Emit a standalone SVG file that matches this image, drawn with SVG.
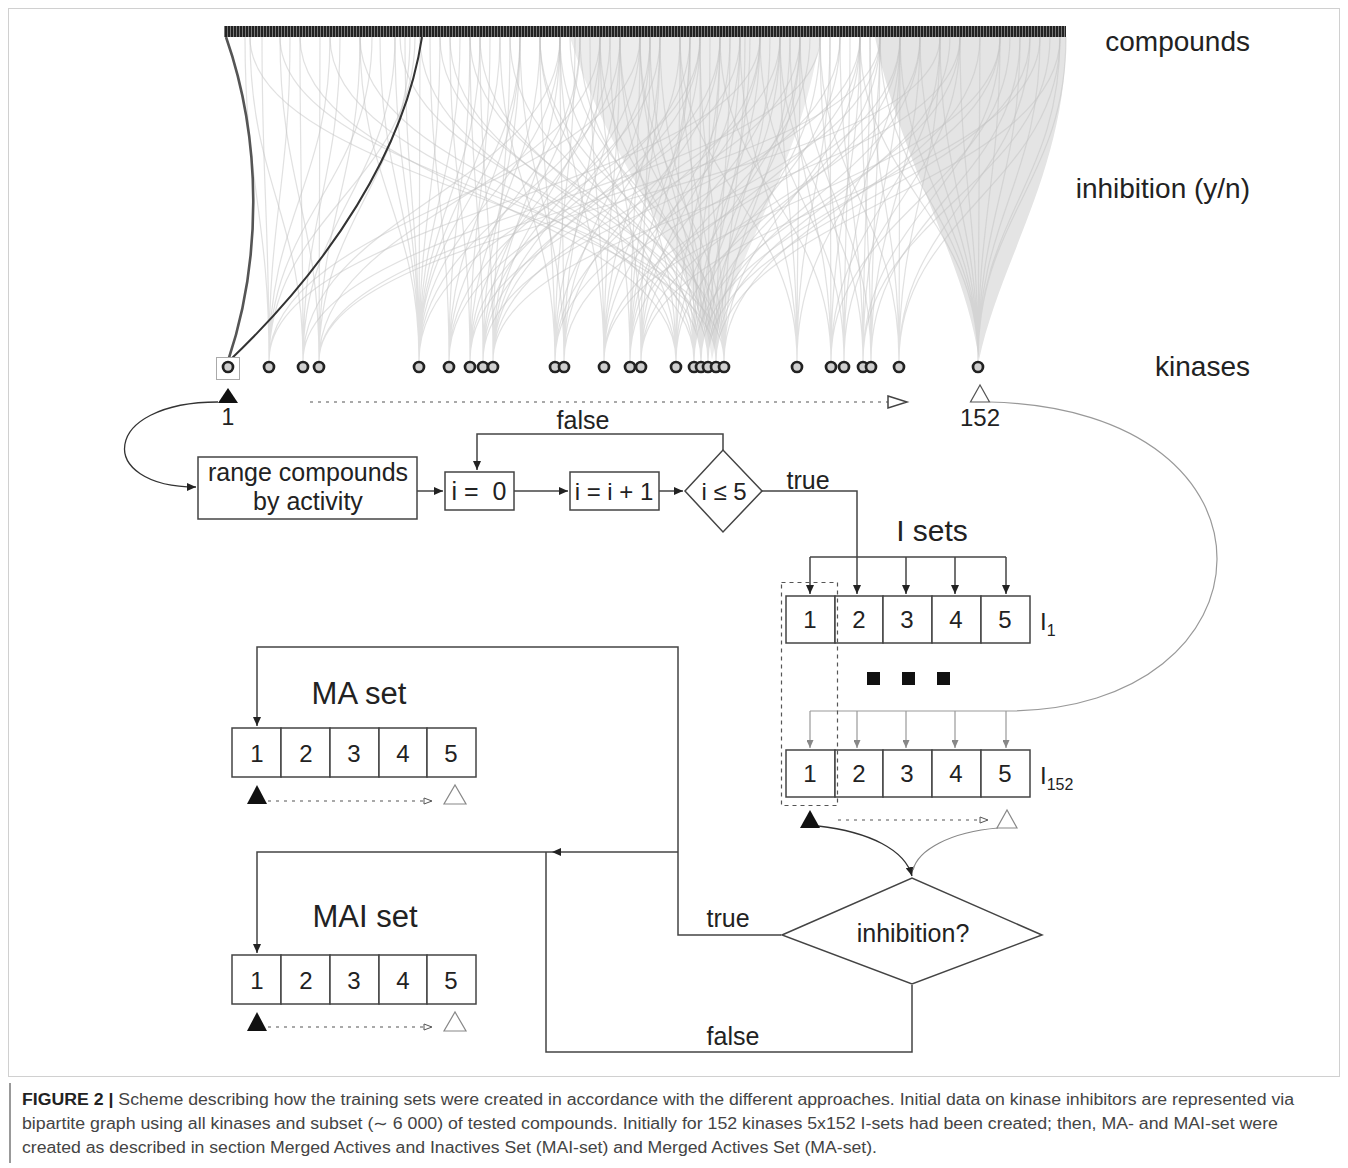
<svg xmlns="http://www.w3.org/2000/svg" width="1348" height="1168" viewBox="0 0 1348 1168">
<style>
.t{font-family:"Liberation Sans",Arial,sans-serif;fill:#222}
.ln{fill:none;stroke:#444;stroke-width:1.5}
.box{fill:#fff;stroke:#444;stroke-width:1.5}
.gl{fill:none;stroke:#999;stroke-width:1.2}
.dot{fill:none;stroke:#555;stroke-width:1.2;stroke-dasharray:3 5}
.edge{fill:none;stroke:#c4c4c4;stroke-opacity:.5;stroke-width:1.2}
.kn{fill:#d0d0d0;stroke:#222;stroke-width:2.7}
.cap{font-family:"Liberation Sans",Arial,sans-serif;fill:#444;font-size:16px}
</style>
<defs>
<pattern id="hatch" width="3" height="11" patternUnits="userSpaceOnUse"><rect width="3" height="11" fill="#222"/><rect x="2" width="1" height="11" fill="#777"/></pattern>
<marker id="ab" markerWidth="9" markerHeight="8" refX="9" refY="4" orient="auto" markerUnits="userSpaceOnUse"><path d="M0,0L9,4L0,8z" fill="#222"/></marker>
<marker id="ag" markerWidth="8" markerHeight="7" refX="8" refY="3.5" orient="auto" markerUnits="userSpaceOnUse"><path d="M0,0L8,3.5L0,7z" fill="#888"/></marker>
<marker id="ah" markerWidth="10" markerHeight="8" refX="9" refY="4" orient="auto" markerUnits="userSpaceOnUse"><path d="M1,1L9,4L1,7z" fill="#fff" stroke="#555" stroke-width="1"/></marker>
</defs>
<rect x="0" y="0" width="1348" height="1168" fill="#fff"/>
<rect x="8.5" y="8.5" width="1331" height="1068" fill="none" stroke="#d0d0d0" stroke-width="1"/>

<g id="bipartite-edges">
<path d="M875,37 L1066,37 C1066,170 1000,260 979,360 C965,260 900,160 875,37 Z" fill="#e4e4e4"/>
<path d="M570,37 L820,37 C800,170 730,260 712,360 C700,260 610,170 570,37 Z" fill="#ececec"/>
<path class="edge" d="M245 37C245 183 269 215 269 361M262 37C262 183 269 215 269 361M290 37C290 183 269 215 269 361M330 37C330 183 269 215 269 361M372 37C372 183 269 215 269 361M415 37C415 183 269 215 269 361M640 37C640 183 269 215 269 361M760 37C760 183 269 215 269 361"/>
<path class="edge" d="M250 37C250 183 303 215 303 361M300 37C300 183 303 215 303 361M340 37C340 183 303 215 303 361M395 37C395 183 303 215 303 361M560 37C560 183 303 215 303 361M820 37C820 183 303 215 303 361"/>
<path class="edge" d="M280 37C280 183 319 215 319 361M320 37C320 183 319 215 319 361M360 37C360 183 319 215 319 361M410 37C410 183 319 215 319 361M600 37C600 183 319 215 319 361M880 37C880 183 319 215 319 361M940 37C940 183 319 215 319 361"/>
<path class="edge" d="M360 37C360 183 419 215 419 361M380 37C380 183 419 215 419 361M395 37C395 183 419 215 419 361M405 37C405 183 419 215 419 361M420 37C420 183 419 215 419 361M440 37C440 183 419 215 419 361M460 37C460 183 419 215 419 361M480 37C480 183 419 215 419 361M500 37C500 183 419 215 419 361M520 37C520 183 419 215 419 361M560 37C560 183 419 215 419 361M620 37C620 183 419 215 419 361M700 37C700 183 419 215 419 361"/>
<path class="edge" d="M430 37C430 183 449 215 449 361M470 37C470 183 449 215 449 361M520 37C520 183 449 215 449 361M580 37C580 183 449 215 449 361M660 37C660 183 449 215 449 361M740 37C740 183 449 215 449 361"/>
<path class="edge" d="M450 37C450 183 470 215 470 361M490 37C490 183 470 215 470 361M540 37C540 183 470 215 470 361M610 37C610 183 470 215 470 361M690 37C690 183 470 215 470 361M780 37C780 183 470 215 470 361"/>
<path class="edge" d="M470 37C470 183 483 215 483 361M520 37C520 183 483 215 483 361M580 37C580 183 483 215 483 361M640 37C640 183 483 215 483 361M720 37C720 183 483 215 483 361M860 37C860 183 483 215 483 361"/>
<path class="edge" d="M480 37C480 183 493 215 493 361M510 37C510 183 493 215 493 361M560 37C560 183 493 215 493 361M600 37C600 183 493 215 493 361M650 37C650 183 493 215 493 361M700 37C700 183 493 215 493 361M800 37C800 183 493 215 493 361M960 37C960 183 493 215 493 361"/>
<path class="edge" d="M500 37C500 183 555 215 555 361M540 37C540 183 555 215 555 361M575 37C575 183 555 215 555 361M620 37C620 183 555 215 555 361M680 37C680 183 555 215 555 361M760 37C760 183 555 215 555 361M840 37C840 183 555 215 555 361"/>
<path class="edge" d="M520 37C520 183 564 215 564 361M560 37C560 183 564 215 564 361M600 37C600 183 564 215 564 361M650 37C650 183 564 215 564 361M720 37C720 183 564 215 564 361M880 37C880 183 564 215 564 361"/>
<path class="edge" d="M560 37C560 183 604 215 604 361M590 37C590 183 604 215 604 361M620 37C620 183 604 215 604 361M660 37C660 183 604 215 604 361M700 37C700 183 604 215 604 361M760 37C760 183 604 215 604 361M900 37C900 183 604 215 604 361M1000 37C1000 183 604 215 604 361"/>
<path class="edge" d="M600 37C600 183 630 215 630 361M640 37C640 183 630 215 630 361M660 37C660 183 630 215 630 361M690 37C690 183 630 215 630 361M730 37C730 183 630 215 630 361M780 37C780 183 630 215 630 361M860 37C860 183 630 215 630 361"/>
<path class="edge" d="M610 37C610 183 641 215 641 361M650 37C650 183 641 215 641 361M690 37C690 183 641 215 641 361M740 37C740 183 641 215 641 361M810 37C810 183 641 215 641 361M920 37C920 183 641 215 641 361M1040 37C1040 183 641 215 641 361"/>
<path class="edge" d="M300 37C300 183 676 215 676 361M420 37C420 183 676 215 676 361M540 37C540 183 676 215 676 361M620 37C620 183 676 215 676 361M680 37C680 183 676 215 676 361M720 37C720 183 676 215 676 361M800 37C800 183 676 215 676 361M900 37C900 183 676 215 676 361"/>
<path class="edge" d="M330 37C330 183 694 215 694 361M450 37C450 183 694 215 694 361M560 37C560 183 694 215 694 361M640 37C640 183 694 215 694 361M690 37C690 183 694 215 694 361M720 37C720 183 694 215 694 361M760 37C760 183 694 215 694 361M840 37C840 183 694 215 694 361M960 37C960 183 694 215 694 361"/>
<path class="edge" d="M360 37C360 183 701 215 701 361M480 37C480 183 701 215 701 361M580 37C580 183 701 215 701 361M650 37C650 183 701 215 701 361M700 37C700 183 701 215 701 361M740 37C740 183 701 215 701 361M780 37C780 183 701 215 701 361M880 37C880 183 701 215 701 361M1000 37C1000 183 701 215 701 361"/>
<path class="edge" d="M400 37C400 183 708 215 708 361M510 37C510 183 708 215 708 361M600 37C600 183 708 215 708 361M660 37C660 183 708 215 708 361M710 37C710 183 708 215 708 361M750 37C750 183 708 215 708 361M800 37C800 183 708 215 708 361M920 37C920 183 708 215 708 361M1030 37C1030 183 708 215 708 361"/>
<path class="edge" d="M250 37C250 183 716 215 716 361M440 37C440 183 716 215 716 361M540 37C540 183 716 215 716 361M620 37C620 183 716 215 716 361M680 37C680 183 716 215 716 361M730 37C730 183 716 215 716 361M770 37C770 183 716 215 716 361M820 37C820 183 716 215 716 361M950 37C950 183 716 215 716 361M1060 37C1060 183 716 215 716 361"/>
<path class="edge" d="M280 37C280 183 724 215 724 361M470 37C470 183 724 215 724 361M570 37C570 183 724 215 724 361M640 37C640 183 724 215 724 361M700 37C700 183 724 215 724 361M745 37C745 183 724 215 724 361M790 37C790 183 724 215 724 361M860 37C860 183 724 215 724 361M980 37C980 183 724 215 724 361"/>
<path class="edge" d="M680 37C680 183 797 215 797 361M740 37C740 183 797 215 797 361M780 37C780 183 797 215 797 361M800 37C800 183 797 215 797 361M830 37C830 183 797 215 797 361M900 37C900 183 797 215 797 361"/>
<path class="edge" d="M720 37C720 183 831 215 831 361M790 37C790 183 831 215 831 361M830 37C830 183 831 215 831 361M860 37C860 183 831 215 831 361M940 37C940 183 831 215 831 361M1010 37C1010 183 831 215 831 361"/>
<path class="edge" d="M760 37C760 183 844 215 844 361M820 37C820 183 844 215 844 361M850 37C850 183 844 215 844 361M880 37C880 183 844 215 844 361M960 37C960 183 844 215 844 361"/>
<path class="edge" d="M780 37C780 183 863 215 863 361M840 37C840 183 863 215 863 361M870 37C870 183 863 215 863 361M900 37C900 183 863 215 863 361M1000 37C1000 183 863 215 863 361M1050 37C1050 183 863 215 863 361"/>
<path class="edge" d="M800 37C800 183 871 215 871 361M860 37C860 183 871 215 871 361M880 37C880 183 871 215 871 361M920 37C920 183 871 215 871 361M1020 37C1020 183 871 215 871 361"/>
<path class="edge" d="M820 37C820 183 899 215 899 361M870 37C870 183 899 215 899 361M900 37C900 183 899 215 899 361M940 37C940 183 899 215 899 361M1030 37C1030 183 899 215 899 361M1060 37C1060 183 899 215 899 361"/>
<path class="edge" d="M860 37C860 183 978 215 978 361M880 37C880 183 978 215 978 361M900 37C900 183 978 215 978 361M920 37C920 183 978 215 978 361M940 37C940 183 978 215 978 361M960 37C960 183 978 215 978 361M980 37C980 183 978 215 978 361M1000 37C1000 183 978 215 978 361M1020 37C1020 183 978 215 978 361M1040 37C1040 183 978 215 978 361M1060 37C1060 183 978 215 978 361M1066 37C1066 183 978 215 978 361"/>
<path d="M226,37 C262,140 262,260 228,361" fill="none" stroke="#555" stroke-width="2.6"/>
<path d="M422,37 C405,150 330,265 229,361" fill="none" stroke="#333" stroke-width="2"/>
</g>

<g id="compounds">
<rect x="224" y="26" width="842" height="11" fill="url(#hatch)"/>
<text class="t" x="1250" y="51" font-size="28" text-anchor="end">compounds</text>
</g>
<text class="t" x="1250" y="198" font-size="28" text-anchor="end">inhibition (y/n)</text>
<text class="t" x="1250" y="376" font-size="28" text-anchor="end">kinases</text>

<g id="kinases">
<rect x="216.5" y="357.5" width="23" height="22" fill="#fff" stroke="#aaa" stroke-width="1"/>
<g id="kinase-1"><circle class="kn" cx="228" cy="367" r="5"/></g>
<g id="kinase-2"><circle class="kn" cx="269" cy="367" r="5"/></g>
<g id="kinase-3"><circle class="kn" cx="303" cy="367" r="5"/></g>
<g id="kinase-4"><circle class="kn" cx="319" cy="367" r="5"/></g>
<g id="kinase-5"><circle class="kn" cx="419" cy="367" r="5"/></g>
<g id="kinase-6"><circle class="kn" cx="449" cy="367" r="5"/></g>
<g id="kinase-7"><circle class="kn" cx="470" cy="367" r="5"/></g>
<g id="kinase-8"><circle class="kn" cx="483" cy="367" r="5"/></g>
<g id="kinase-9"><circle class="kn" cx="493" cy="367" r="5"/></g>
<g id="kinase-10"><circle class="kn" cx="555" cy="367" r="5"/></g>
<g id="kinase-11"><circle class="kn" cx="564" cy="367" r="5"/></g>
<g id="kinase-12"><circle class="kn" cx="604" cy="367" r="5"/></g>
<g id="kinase-13"><circle class="kn" cx="630" cy="367" r="5"/></g>
<g id="kinase-14"><circle class="kn" cx="641" cy="367" r="5"/></g>
<g id="kinase-15"><circle class="kn" cx="676" cy="367" r="5"/></g>
<g id="kinase-16"><circle class="kn" cx="694" cy="367" r="5"/></g>
<g id="kinase-17"><circle class="kn" cx="701" cy="367" r="5"/></g>
<g id="kinase-18"><circle class="kn" cx="708" cy="367" r="5"/></g>
<g id="kinase-19"><circle class="kn" cx="716" cy="367" r="5"/></g>
<g id="kinase-20"><circle class="kn" cx="724" cy="367" r="5"/></g>
<g id="kinase-21"><circle class="kn" cx="797" cy="367" r="5"/></g>
<g id="kinase-22"><circle class="kn" cx="831" cy="367" r="5"/></g>
<g id="kinase-23"><circle class="kn" cx="844" cy="367" r="5"/></g>
<g id="kinase-24"><circle class="kn" cx="863" cy="367" r="5"/></g>
<g id="kinase-25"><circle class="kn" cx="871" cy="367" r="5"/></g>
<g id="kinase-26"><circle class="kn" cx="899" cy="367" r="5"/></g>
<g id="kinase-152"><circle class="kn" cx="978" cy="367" r="5"/></g>
<polygon points="218,403 238,403 228,388" fill="#111"/>
<text class="t" x="228" y="425" font-size="23" text-anchor="middle">1</text>
<polygon points="970.5,402 989.5,402 980,385" fill="#fff" stroke="#555" stroke-width="1.2"/>
<text class="t" x="980" y="426" font-size="24" text-anchor="middle">152</text>
<line class="dot" x1="310" y1="402" x2="888" y2="402"/>
<polygon points="888,396 907,402 888,408" fill="#fff" stroke="#444" stroke-width="1.5"/>
</g>

<g id="connectors">
<path d="M218,402 C100,402 95,487 196,487" fill="none" stroke="#333" stroke-width="1.3" marker-end="url(#ab)"/>
<path class="ln" d="M417,491 L443,491" marker-end="url(#ab)"/>
<path class="ln" d="M514,491 L568,491" marker-end="url(#ab)"/>
<path class="ln" d="M659,491 L683,491" marker-end="url(#ab)"/>
<path class="ln" d="M723,450 L723,434 L477,434 L477,470" marker-end="url(#ab)"/>
<path class="ln" d="M762,491 L857,491 L857,594" marker-end="url(#ab)"/>
<path class="ln" d="M810,557 L1006,557"/>
<path class="ln" d="M810,557 L810,594" marker-end="url(#ab)"/>
<path class="ln" d="M906,557 L906,594" marker-end="url(#ab)"/>
<path class="ln" d="M955,557 L955,594" marker-end="url(#ab)"/>
<path class="ln" d="M1006,557 L1006,594" marker-end="url(#ab)"/>
<path class="gl" d="M990,402 C1300,410 1280,711 1006,711 L810,711"/>
<path class="gl" d="M810,711 L810,748" marker-end="url(#ag)"/>
<path class="gl" d="M857,711 L857,748" marker-end="url(#ag)"/>
<path class="gl" d="M906,711 L906,748" marker-end="url(#ag)"/>
<path class="gl" d="M955,711 L955,748" marker-end="url(#ag)"/>
<path class="gl" d="M1006,711 L1006,748" marker-end="url(#ag)"/>
<path d="M818,826 C870,832 905,850 912,876" fill="none" stroke="#333" stroke-width="1.4" marker-end="url(#ab)"/>
<path d="M998,828 C950,832 918,850 913,870" fill="none" stroke="#888" stroke-width="1.2"/>
<path class="ln" d="M781,935 L678,935 L678,647 L257,647 L257,726" marker-end="url(#ab)"/>
<path class="ln" d="M678,852 L552,852" marker-end="url(#ab)"/>
<path class="ln" d="M552,852 L257,852 L257,953" marker-end="url(#ab)"/>
<path class="ln" d="M912,985 L912,1052 L546,1052 L546,852"/>
<text class="t" x="583" y="429" font-size="25" text-anchor="middle">false</text>
<text class="t" x="808" y="489" font-size="25" text-anchor="middle">true</text>
<text class="t" x="728" y="927" font-size="25" text-anchor="middle">true</text>
<text class="t" x="733" y="1045" font-size="25" text-anchor="middle">false</text>
</g>

<g id="range-box">
<rect class="box" x="198" y="457" width="219" height="62"/>
<text class="t" x="308" y="481" font-size="25" text-anchor="middle">range compounds</text>
<text class="t" x="308" y="510" font-size="25" text-anchor="middle">by activity</text>
</g>
<g id="i-init">
<rect class="box" x="445" y="472" width="69" height="38"/>
<text class="t" x="479" y="500" font-size="25" text-anchor="middle" xml:space="preserve">i =  0</text>
</g>
<g id="i-incr">
<rect class="box" x="570" y="472" width="89" height="38"/>
<text class="t" x="614" y="500" font-size="24" text-anchor="middle">i = i + 1</text>
</g>
<g id="i-cond">
<polygon class="box" points="685,491 723,450 762,491 723,532"/>
<text class="t" x="724" y="500" font-size="24" text-anchor="middle">i ≤ 5</text>
</g>

<g id="i-sets">
<text class="t" x="932" y="541" font-size="30" text-anchor="middle">I sets</text>
<g id="I1">
<rect class="box" x="786" y="596" width="49" height="47"/>
<rect class="box" x="835" y="596" width="48" height="47"/>
<rect class="box" x="883" y="596" width="49" height="47"/>
<rect class="box" x="932" y="596" width="49" height="47"/>
<rect class="box" x="981" y="596" width="49" height="47"/>
<text class="t" font-size="24" text-anchor="middle" y="628"><tspan x="810">1</tspan><tspan x="859">2</tspan><tspan x="907">3</tspan><tspan x="956">4</tspan><tspan x="1005">5</tspan></text>
<text class="t" x="1040" y="630" font-size="24">I<tspan font-size="16" dy="6">1</tspan></text>
</g>
<rect x="867" y="672" width="13" height="13" fill="#111"/>
<rect x="902" y="672" width="13" height="13" fill="#111"/>
<rect x="937" y="672" width="13" height="13" fill="#111"/>
<g id="I152">
<rect class="box" x="786" y="750" width="49" height="47"/>
<rect class="box" x="835" y="750" width="48" height="47"/>
<rect class="box" x="883" y="750" width="49" height="47"/>
<rect class="box" x="932" y="750" width="49" height="47"/>
<rect class="box" x="981" y="750" width="49" height="47"/>
<text class="t" font-size="24" text-anchor="middle" y="782"><tspan x="810">1</tspan><tspan x="859">2</tspan><tspan x="907">3</tspan><tspan x="956">4</tspan><tspan x="1005">5</tspan></text>
<text class="t" x="1040" y="784" font-size="24">I<tspan font-size="16" dy="6">152</tspan></text>
</g>
<rect x="781.5" y="582.5" width="56" height="223" fill="none" stroke="#555" stroke-width="1.2" stroke-dasharray="4 4"/>
<polygon points="800,828 820,828 810,810" fill="#111"/>
<path class="dot" d="M838,820 L988,820" marker-end="url(#ah)"/>
<polygon points="997,828 1017,828 1007,810" fill="#fff" stroke="#888" stroke-width="1.2"/>
</g>

<g id="inhibition">
<polygon class="box" points="782,935 912,878 1042,935 912,984"/>
<text class="t" x="913" y="942" font-size="25" text-anchor="middle">inhibition?</text>
</g>

<g id="ma-set">
<text class="t" x="359" y="704" font-size="31" text-anchor="middle">MA set</text>
<rect class="box" x="232" y="728" width="49" height="49"/>
<rect class="box" x="281" y="728" width="49" height="49"/>
<rect class="box" x="330" y="728" width="49" height="49"/>
<rect class="box" x="379" y="728" width="48" height="49"/>
<rect class="box" x="427" y="728" width="49" height="49"/>
<text class="t" font-size="24" text-anchor="middle" y="762"><tspan x="257">1</tspan><tspan x="306">2</tspan><tspan x="354">3</tspan><tspan x="403">4</tspan><tspan x="451">5</tspan></text>
<polygon points="247,804 267,804 257,785" fill="#111"/>
<path class="dot" d="M268,801 L432,801" marker-end="url(#ah)"/>
<polygon points="444,804 466,804 455,785" fill="#fff" stroke="#888" stroke-width="1.2"/>
</g>

<g id="mai-set">
<text class="t" x="365" y="927" font-size="31" text-anchor="middle">MAI set</text>
<rect class="box" x="232" y="955" width="49" height="49"/>
<rect class="box" x="281" y="955" width="49" height="49"/>
<rect class="box" x="330" y="955" width="49" height="49"/>
<rect class="box" x="379" y="955" width="48" height="49"/>
<rect class="box" x="427" y="955" width="49" height="49"/>
<text class="t" font-size="24" text-anchor="middle" y="989"><tspan x="257">1</tspan><tspan x="306">2</tspan><tspan x="354">3</tspan><tspan x="403">4</tspan><tspan x="451">5</tspan></text>
<polygon points="247,1031 267,1031 257,1012" fill="#111"/>
<path class="dot" d="M268,1027 L432,1027" marker-end="url(#ah)"/>
<polygon points="444,1031 466,1031 455,1012" fill="#fff" stroke="#888" stroke-width="1.2"/>
</g>

<g id="caption">
<line x1="10" y1="1083" x2="10" y2="1163" stroke="#999" stroke-width="2"/>
<text class="cap" x="22" y="1105" textLength="1272" lengthAdjust="spacingAndGlyphs"><tspan font-weight="bold" fill="#222">FIGURE 2 |</tspan> Scheme describing how the training sets were created in accordance with the different approaches. Initial data on kinase inhibitors are represented via</text>
<text class="cap" x="22" y="1129" textLength="1256" lengthAdjust="spacingAndGlyphs">bipartite graph using all kinases and subset (∼ 6 000) of tested compounds. Initially for 152 kinases 5x152 I-sets had been created; then, MA- and MAI-set were</text>
<text class="cap" x="22" y="1153" textLength="855" lengthAdjust="spacingAndGlyphs">created as described in section Merged Actives and Inactives Set (MAI-set) and Merged Actives Set (MA-set).</text>
</g>
</svg>
